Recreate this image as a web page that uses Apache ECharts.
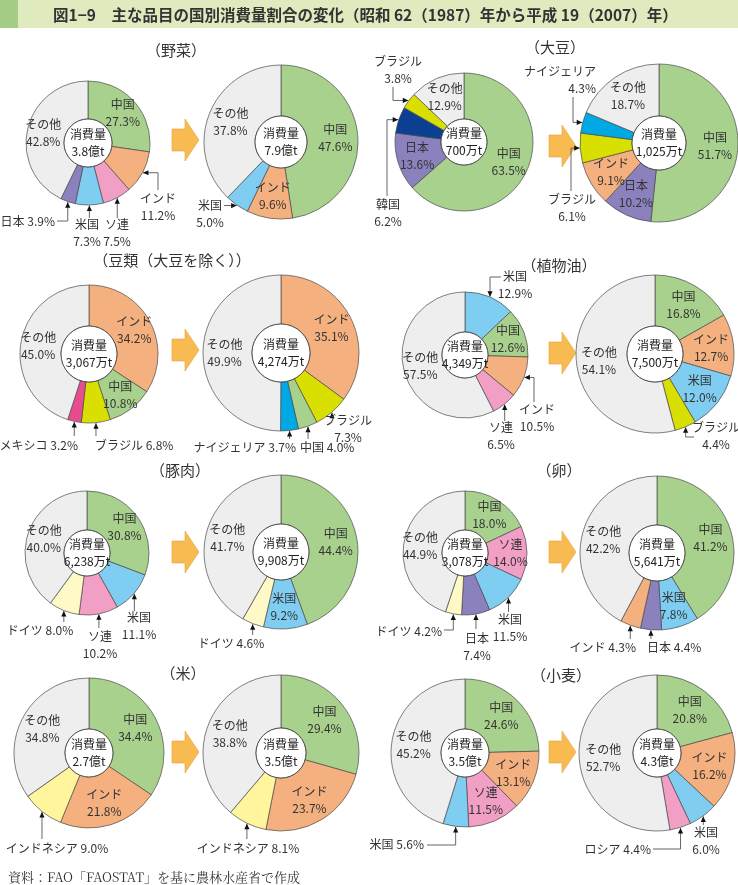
<!DOCTYPE html>
<html><head><meta charset="utf-8">
<script src="https://cdn.jsdelivr.net/npm/echarts@6/dist/echarts.min.js"></script>
<style>html,body{margin:0;padding:0;background:#fff}#c{width:738px;height:885px}</style>
</head><body><div id="c"></div>
<script>
// ===== DATA =====
const titleText = '図1−9　主な品目の国別消費量割合の変化（昭和 62（1987）年から平成 19（2007）年）';
const sourceText = '資料：FAO「FAOSTAT」を基に農林水産省で作成';
const itemTitles = ['（野菜）', '（大豆）', '（豆類（大豆を除く））', '（植物油）', '（豚肉）', '（卵）', '（米）', '（小麦）'];

const vegNames1987 = ['中国', 'インド', 'ソ連', '米国', '日本', 'その他'];
const vegShares1987 = [27.3, 11.2, 7.5, 7.3, 3.9, 42.8];
const vegTotal1987 = '3.8億t';
const vegNames2007 = ['中国', 'インド', '米国', 'その他'];
const vegShares2007 = [47.6, 9.6, 5.0, 37.8];
const vegTotal2007 = '7.9億t';

const soyNames1987 = ['中国', '日本', '韓国', 'ブラジル', 'その他'];
const soyShares1987 = [63.5, 13.6, 6.2, 3.8, 12.9];
const soyTotal1987 = '700万t';
const soyNames2007 = ['中国', '日本', 'インド', 'ブラジル', 'ナイジェリア', 'その他'];
const soyShares2007 = [51.7, 10.2, 9.1, 6.1, 4.3, 18.7];
const soyTotal2007 = '1,025万t';

const pulseNames1987 = ['インド', '中国', 'ブラジル', 'メキシコ', 'その他'];
const pulseShares1987 = [34.2, 10.8, 6.8, 3.2, 45.0];
const pulseTotal1987 = '3,067万t';
const pulseNames2007 = ['インド', 'ブラジル', '中国', 'ナイジェリア', 'その他'];
const pulseShares2007 = [35.1, 7.3, 4.0, 3.7, 49.9];
const pulseTotal2007 = '4,274万t';

const oilNames1987 = ['米国', '中国', 'インド', 'ソ連', 'その他'];
const oilShares1987 = [12.9, 12.6, 10.5, 6.5, 57.5];
const oilTotal1987 = '4,349万t';
const oilNames2007 = ['中国', 'インド', '米国', 'ブラジル', 'その他'];
const oilShares2007 = [16.8, 12.7, 12.0, 4.4, 54.1];
const oilTotal2007 = '7,500万t';

const porkNames1987 = ['中国', '米国', 'ソ連', 'ドイツ', 'その他'];
const porkShares1987 = [30.8, 11.1, 10.2, 8.0, 40.0];
const porkTotal1987 = '6,238万t';
const porkNames2007 = ['中国', '米国', 'ドイツ', 'その他'];
const porkShares2007 = [44.4, 9.2, 4.6, 41.7];
const porkTotal2007 = '9,908万t';

const eggNames1987 = ['中国', 'ソ連', '米国', '日本', 'ドイツ', 'その他'];
const eggShares1987 = [18.0, 14.0, 11.5, 7.4, 4.2, 44.9];
const eggTotal1987 = '3,078万t';
const eggNames2007 = ['中国', '米国', '日本', 'インド', 'その他'];
const eggShares2007 = [41.2, 7.8, 4.4, 4.3, 42.2];
const eggTotal2007 = '5,641万t';

const riceNames1987 = ['中国', 'インド', 'インドネシア', 'その他'];
const riceShares1987 = [34.4, 21.8, 9.0, 34.8];
const riceTotal1987 = '2.7億t';
const riceNames2007 = ['中国', 'インド', 'インドネシア', 'その他'];
const riceShares2007 = [29.4, 23.7, 8.1, 38.8];
const riceTotal2007 = '3.5億t';

const wheatNames1987 = ['中国', 'インド', 'ソ連', '米国', 'その他'];
const wheatShares1987 = [24.6, 13.1, 11.5, 5.6, 45.2];
const wheatTotal1987 = '3.5億t';
const wheatNames2007 = ['中国', 'インド', '米国', 'ロシア', 'その他'];
const wheatShares2007 = [20.8, 16.2, 6.0, 4.4, 52.7];
const wheatTotal2007 = '4.3億t';

// ===== STYLE / LAYOUT =====
const FONT = '"Noto Sans CJK JP","Noto Sans",sans-serif';
const TXT = '#333';
const COLORS = {
  '中国': '#a9d18e', 'インド': '#f4b07f', 'ソ連': '#f29fc5', '米国': '#7fcdf1',
  '日本': '#8b81bd', 'その他': '#eeeeee', '韓国': '#0a3f91', 'ブラジル': '#d9df00',
  'ナイジェリア': '#00a9e3', 'メキシコ': '#e84c8f', 'ドイツ': '#fef9c6',
  'インドネシア': '#fff59d', 'ロシア': '#f29fc5'
};

// outside labels: [x, y, align, oneLine, mode, a, b]
const PIES = [
  { names: vegNames1987, values: vegShares1987, total: vegTotal1987, c: [88, 143], r: [24, 62],
    out: { 'インド': [158, 207, 'center', 0, 'hv', 158, 190], 'ソ連': [117, 233, 'center', 0, 'v', 218],
           '米国': [87, 233, 'center', 0, 'v', 218], '日本': [55, 221, 'right', 1, 'vh', 221, 57] } },
  { names: vegNames2007, values: vegShares2007, total: vegTotal2007, c: [281, 142], r: [26, 77],
    out: { '米国': [210, 214, 'center', 0, 'h', 224] } },
  { names: soyNames1987, values: soyShares1987, total: soyTotal1987, c: [464, 142], r: [23, 69],
    out: { 'ブラジル': [398, 70, 'center', 0, 'hv', 393, 87], '韓国': [388, 213, 'center', 0, 'hv', 387, 196] } },
  { names: soyNames2007, values: soyShares2007, total: soyTotal2007, c: [659, 143], r: [27, 79],
    out: { 'ナイジェリア': [596, 80, 'right', 0, 'hv', 573, 97], 'ブラジル': [572, 208, 'center', 0, 'hv', 571, 191] } },
  { names: pulseNames1987, values: pulseShares1987, total: pulseTotal1987, c: [89, 354], r: [28, 69],
    out: { 'メキシコ': [78, 445, 'right', 1, 'v', 436], 'ブラジル': [95, 445, 'left', 1, 'v', 436] } },
  { names: pulseNames2007, values: pulseShares2007, total: pulseTotal2007, c: [281, 353], r: [29, 78],
    out: { 'ブラジル': [348, 429, 'center', 0, 'v', 417], '中国': [300, 447, 'left', 1, 'v', 439],
           'ナイジェリア': [296, 447, 'right', 1, 'v', 439] } },
  { names: oilNames1987, values: oilShares1987, total: oilTotal1987, c: [465, 355], r: [23, 63],
    out: { '米国': [515, 285, 'center', 0, 'vh', 277, 501], 'インド': [537, 418, 'center', 0, 'hv', 534, 402],
           'ソ連': [501, 436, 'center', 0, 'v', 421] } },
  { names: oilNames2007, values: oilShares2007, total: oilTotal2007, c: [655, 354], r: [28, 79],
    out: { 'ブラジル': [716, 436, 'center', 0, 'vh', 437, 694] } },
  { names: porkNames1987, values: porkShares1987, total: porkTotal1987, c: [87, 553], r: [23, 62],
    out: { '米国': [139, 626, 'center', 0, 'v', 611], 'ソ連': [100, 645, 'center', 0, 'v', 628],
           'ドイツ': [40, 630, 'center', 1, 'v', 622] } },
  { names: porkNames2007, values: porkShares2007, total: porkTotal2007, c: [281, 552], r: [28, 77],
    out: { 'ドイツ': [231, 643, 'center', 1, 'v', 635] } },
  { names: eggNames1987, values: eggShares1987, total: eggTotal1987, c: [465, 553], r: [23, 62],
    out: { '米国': [510, 628, 'center', 0, 'v', 612], '日本': [477, 647, 'center', 0, 'v', 629],
           'ドイツ': [442, 631, 'right', 1, 'vh', 630, 444] } },
  { names: eggNames2007, values: eggShares2007, total: eggTotal2007, c: [657, 553], r: [28, 77],
    out: { '日本': [647, 647, 'left', 1, 'v', 639], 'インド': [636, 647, 'right', 1, 'v', 639] } },
  { names: riceNames1987, values: riceShares1987, total: riceTotal1987, c: [89, 753], r: [24, 75],
    out: { 'インドネシア': [57, 848, 'center', 1, 'v', 839] } },
  { names: riceNames2007, values: riceShares2007, total: riceTotal2007, c: [281, 753], r: [25, 78],
    out: { 'インドネシア': [248, 848, 'center', 1, 'v', 839] } },
  { names: wheatNames1987, values: wheatShares1987, total: wheatTotal1987, c: [465, 753], r: [24, 74],
    out: { '米国': [424, 844, 'right', 1, 'vh', 845, 427] } },
  { names: wheatNames2007, values: wheatShares2007, total: wheatTotal2007, c: [657, 753], r: [24, 78],
    out: { '米国': [706, 841, 'center', 0, 'v', 825], 'ロシア': [651, 849, 'right', 1, 'vh', 849, 653] } }
];
const HEAD_POS = [[176, 50], [555, 47], [172, 260], [559, 265], [180, 470], [559, 470], [183, 673], [561, 675]];
const ARROWS = [[172, 140], [549, 146], [172, 350], [549, 353], [172, 552], [549, 552], [172, 752], [549, 752]];

const fmt = v => v.toFixed(1) + '%';

const series = [];
const graphics = [];

// title bar
graphics.push({ type: 'rect', shape: { x: 0, y: 0, width: 738, height: 28 }, style: { fill: '#dfeabf' }, silent: true });
graphics.push({ type: 'rect', shape: { x: 0, y: 0, width: 18, height: 28 }, style: { fill: '#a6cd86' }, silent: true });
graphics.push({ type: 'text', x: 53, y: 15, silent: true,
  style: { text: titleText, fontSize: 15.5, fontWeight: 'bold', fontFamily: FONT, fill: '#333', align: 'left', verticalAlign: 'middle' } });
graphics.push({ type: 'text', x: 8, y: 877, silent: true,
  style: { text: sourceText, fontSize: 13, fontFamily: '"Noto Serif CJK JP","DejaVu Serif",serif', fill: '#333', align: 'left', verticalAlign: 'middle' } });

itemTitles.forEach((t, i) => {
  graphics.push({ type: 'text', x: HEAD_POS[i][0], y: HEAD_POS[i][1], silent: true,
    style: { text: t, fontSize: 15, fontFamily: FONT, fill: '#333', align: 'center', verticalAlign: 'middle' } });
});

ARROWS.forEach(([x, y]) => {
  graphics.push({ type: 'polygon', silent: true,
    shape: { points: [[x, y - 11], [x + 13, y - 11], [x + 13, y - 21], [x + 27, y], [x + 13, y + 21], [x + 13, y + 11], [x, y + 11]] },
    style: { fill: '#f8bb52', stroke: '#e8a23a', lineWidth: 0.6 } });
});

PIES.forEach(p => {
  const sum = p.values.reduce((a, b) => a + b, 0);
  series.push({
    type: 'pie', center: p.c, radius: p.r, startAngle: 90, clockwise: true,
    avoidLabelOverlap: false, silent: true, animation: false,
    labelLayout: { hideOverlap: false },
    itemStyle: { borderColor: '#4a4a4a', borderWidth: 0.7 },
    label: { show: true, position: 'inside', fontFamily: FONT, fontSize: 12, lineHeight: 17, color: TXT,
             textBorderWidth: 0, formatter: d => d.name + '\n' + fmt(d.value) },
    labelLine: { show: false },
    emphasis: { disabled: true },
    data: p.names.map((n, i) => ({ name: n, value: p.values[i], itemStyle: { color: COLORS[n] },
                                   label: { show: !p.out[n] } }))
  });
  series.push({
    type: 'pie', center: p.c, radius: [0, p.r[0]], silent: true, animation: false,
    labelLayout: { hideOverlap: false },
    itemStyle: { color: '#fff', borderColor: '#333', borderWidth: 0.8 },
    label: { show: true, position: 'center', fontFamily: FONT, fontSize: 12, lineHeight: 17, color: '#222',
             formatter: '消費量\n' + p.total },
    labelLine: { show: false },
    emphasis: { disabled: true },
    data: [{ value: 1, name: 'total' }]
  });
  // outside labels with leader lines
  let cum = 0;
  p.names.forEach((n, i) => {
    const v = p.values[i];
    const mid = (cum + v / 2) / sum * 2 * Math.PI;
    cum += v;
    const spec = p.out[n];
    if (!spec) return;
    const R = p.r[1] + 0.5;
    const ax = p.c[0] + R * Math.sin(mid), ay = p.c[1] - R * Math.cos(mid);
    const [tx, ty, align, one, mode, a, b] = spec;
    let pts;
    if (mode === 'v') pts = [[ax, ay], [ax, a]];
    else if (mode === 'vh') pts = [[ax, ay], [ax, a], [b, a]];
    else if (mode === 'h') pts = [[ax, ay], [a, ay]];
    else pts = [[ax, ay], [a, ay], [a, b]];
    const dx = pts[1][0] - ax, dy = pts[1][1] - ay;
    const L = Math.hypot(dx, dy) || 1;
    const ux = dx / L, uy = dy / L;
    const hl = 5.5, hw = 2.6;
    graphics.push({ type: 'polyline', silent: true, shape: { points: pts },
      style: { stroke: '#666', lineWidth: 1, fill: null } });
    graphics.push({ type: 'polygon', silent: true,
      shape: { points: [[ax, ay], [ax + ux * hl - uy * hw, ay + uy * hl + ux * hw], [ax + ux * hl + uy * hw, ay + uy * hl - ux * hw]] },
      style: { fill: '#111' } });
    const text = one ? n + ' ' + fmt(v) : n + '\n' + fmt(v);
    graphics.push({ type: 'text', x: tx, y: ty, silent: true,
      style: { text: text, fontSize: 12, lineHeight: 17, fontFamily: FONT, fill: TXT, align: align, verticalAlign: 'middle' } });
  });
});

const chart = echarts.init(document.getElementById('c'), null, { renderer: 'canvas' });
chart.setOption({
  backgroundColor: '#fff',
  animation: false,
  series: series,
  graphic: { elements: graphics }
});
</script></body></html>
